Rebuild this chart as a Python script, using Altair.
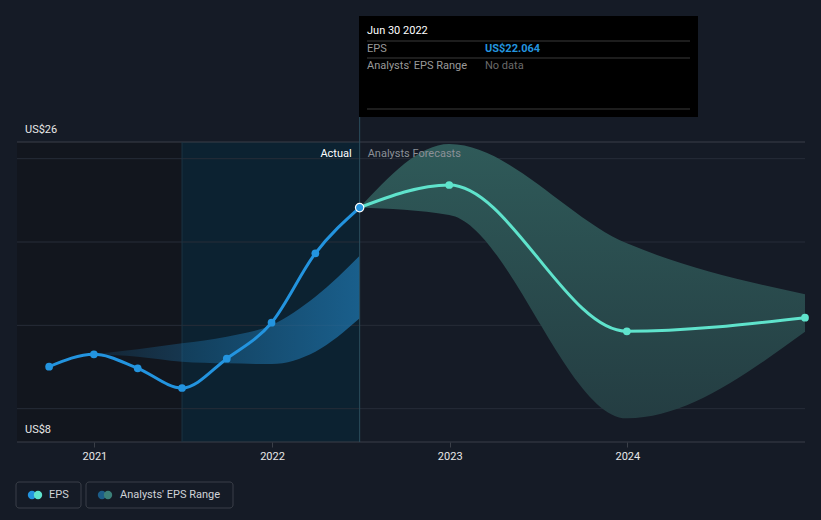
import altair as alt
import pandas as pd

# ---------------- data ----------------
actual_dates = ["2020-09-30", "2020-12-31", "2021-03-31", "2021-06-30",
                "2021-09-30", "2021-12-31", "2022-03-31", "2022-06-30"]
actual_eps = [12.52, 13.26, 12.42, 11.24, 13.0, 15.16, 19.32, 22.064]

past_range_dates = ["2020-12-31", "2021-03-31", "2021-06-30", "2021-09-30",
                    "2021-12-31", "2022-03-31", "2022-06-30"]
past_low = [13.26, 13.12, 12.82, 12.72, 12.68, 13.42, 15.42]
past_high = [13.26, 13.56, 13.92, 14.32, 15.02, 16.72, 19.18]

forecast_dates = ["2022-06-30", "2022-12-31", "2023-12-31", "2024-12-31"]
forecast_eps = [22.064, 23.42, 14.64, 15.46]
forecast_low = [22.064, 21.62, 9.42, 14.62]
forecast_high = [22.064, 25.88, 19.92, 16.86]

grid_values = [10, 15, 20, 25]
y_labels = ["US$26", "US$8"]
y_label_values = [26, 8]
year_ticks = [2021, 2022, 2023, 2024]

# ---------------- styling ----------------
W, H = 788, 300
BG = "#151b26"
FONT = "Roboto"
BLUE = "#2394df"
TEAL = "#5fe3cc"

x_scale = alt.Scale(type="utc",
                    domain=[alt.DateTime(year=2020, month=7, date=26, utc=True),
                            alt.DateTime(year=2024, month=12, date=31, utc=True)],
                    nice=False)
y_scale = alt.Scale(domain=[8, 26], nice=False, zero=False)

x_axis = alt.Axis(
    values=[alt.DateTime(year=y, month=1, date=1, utc=True) for y in year_ticks],
    format="%Y", labelColor="#e8e8e8", labelFont=FONT, labelFontSize=11,
    tickColor="#3a3f48", tickSize=5, labelPadding=3, domain=False,
    grid=False, title=None, labelAngle=0)


def X(field, axis=alt.Undefined):
    return alt.X(field, type="temporal", scale=x_scale, axis=axis)


def Y(field):
    return alt.Y(field, type="quantitative", scale=y_scale, axis=None)


one = pd.DataFrame({"a": [0]})
actual_df = pd.DataFrame({"date": actual_dates, "eps": actual_eps})
past_df = pd.DataFrame({"date": past_range_dates, "low": past_low, "high": past_high})
fc_df = pd.DataFrame({"date": forecast_dates, "eps": forecast_eps,
                      "low": forecast_low, "high": forecast_high})

# background regions (also carries the x axis)
regions = pd.DataFrame({
    "start": ["2020-07-26", "2021-06-30"],
    "end": ["2021-06-30", "2022-06-30"],
    "fill": ["#12161e", "#0c2231"],
})
region_layer = alt.Chart(regions).mark_rect().encode(
    x=X("start:T", axis=x_axis), x2="end:T",
    y=alt.value(0), y2=alt.value(H),
    color=alt.Color("fill:N", scale=None),
)

# gridlines
grid_layer = alt.Chart(pd.DataFrame({"v": grid_values})).mark_rule(
    color="#272d38", strokeWidth=1).encode(
    y=Y("v:Q"), x=alt.value(0), x2=alt.value(W))
top_layer = alt.Chart(pd.DataFrame({"v": [26]})).mark_rule(
    color="#3a3f48", strokeWidth=1).encode(
    y=Y("v:Q"), x=alt.value(0), x2=alt.value(W))
axis_layer = alt.Chart(pd.DataFrame({"v": [8]})).mark_rule(
    color="#3a3f48", strokeWidth=1).encode(
    y=Y("v:Q"), x=alt.value(0), x2=alt.value(W))

# vertical markers
vline1 = alt.Chart(pd.DataFrame({"date": ["2021-06-30"]})).mark_rule(
    color="#1c3442", strokeWidth=1).encode(
    x=X("date:T"), y=alt.value(0), y2=alt.value(H))
vline2 = alt.Chart(pd.DataFrame({"date": ["2022-06-30"]})).mark_rule(
    color="#2b4d5d", strokeWidth=1).encode(
    x=X("date:T"), y=alt.value(-25), y2=alt.value(H))

# past analyst range (gradient)
past_area = alt.Chart(past_df).mark_area(
    interpolate="monotone",
    color=alt.Gradient(
        gradient="linear", x1=0, x2=1, y1=0, y2=0,
        stops=[alt.GradientStop(color="rgba(30,115,170,0.15)", offset=0),
               alt.GradientStop(color="rgba(30,115,170,0.45)", offset=0.5),
               alt.GradientStop(color="rgba(30,115,170,0.75)", offset=1)])
).encode(x=X("date:T"), y=Y("high:Q"), y2="low:Q")

# forecast range
fc_area = alt.Chart(fc_df).mark_area(
    interpolate="monotone",
    color=alt.Gradient(
        gradient="linear", x1=0, x2=0, y1=0, y2=1,
        stops=[alt.GradientStop(color="#2f5a59", offset=0),
               alt.GradientStop(color="#243d42", offset=1)])
).encode(x=X("date:T"), y=Y("high:Q"), y2="low:Q")

# lines
actual_line = alt.Chart(actual_df).mark_line(
    interpolate="monotone", color=BLUE, strokeWidth=3).encode(
    x=X("date:T"), y=Y("eps:Q"))
fc_line = alt.Chart(fc_df).mark_line(
    interpolate="monotone", color=TEAL, strokeWidth=3).encode(
    x=X("date:T"), y=Y("eps:Q"))

actual_pts = alt.Chart(actual_df.iloc[:-1]).mark_circle(
    color=BLUE, size=60, opacity=1).encode(x=X("date:T"), y=Y("eps:Q"))
last_pt = alt.Chart(actual_df.iloc[-1:]).mark_point(
    filled=True, fill=BLUE, stroke="#ffffff", strokeWidth=1.2, size=70,
    opacity=1).encode(x=X("date:T"), y=Y("eps:Q"))
fc_pts = alt.Chart(fc_df.iloc[1:]).mark_circle(
    color=TEAL, size=60, opacity=1).encode(x=X("date:T"), y=Y("eps:Q"))

# y labels
ylab_layer = alt.Chart(pd.DataFrame({"v": y_label_values, "t": y_labels})).mark_text(
    align="left", baseline="middle", dy=-12, color="#e8e8e8", font=FONT,
    fontSize=11).encode(x=alt.value(8), y=Y("v:Q"), text="t:N")

# Actual / Analysts Forecasts labels
sec_df = pd.DataFrame({"date": ["2022-06-30"]})
actual_lbl = alt.Chart(sec_df).mark_text(
    align="right", baseline="middle", dx=-8, color="#ffffff", font=FONT,
    fontSize=11, text="Actual").encode(x=X("date:T"), y=alt.value(12))
fc_lbl = alt.Chart(sec_df).mark_text(
    align="left", baseline="middle", dx=8, color="#8b9097", font=FONT,
    fontSize=11, text="Analysts Forecasts").encode(x=X("date:T"), y=alt.value(12))

# tooltip box
tip_box = alt.Chart(one).mark_rect(color="#000000").encode(
    x=alt.value(342), x2=alt.value(681), y=alt.value(-126), y2=alt.value(-25))
tip_lines = alt.Chart(pd.DataFrame({"y": [-101, -84, -33]})).mark_rule(
    color="#3a3a3a", strokeWidth=1).encode(
    x=alt.value(350), x2=alt.value(673), y=alt.Y("y:Q", scale=None))
tip_text = alt.Chart(pd.DataFrame({
    "x": [350, 350, 350, 468],
    "y": [-111, -93, -76, -76],
    "t": ["Jun 30 2022", "EPS", "Analysts' EPS Range", "No data"],
    "c": ["#ffffff", "#9a9a9a", "#9a9a9a", "#6a6a6a"],
})).mark_text(align="left", baseline="middle", font=FONT, fontSize=11).encode(
    x=alt.X("x:Q", scale=None), y=alt.Y("y:Q", scale=None), text="t:N",
    color=alt.Color("c:N", scale=None))
tip_value = alt.Chart(pd.DataFrame({"t": ["US$22.064"]})).mark_text(
    align="left", baseline="middle", font=FONT, fontSize=11, fontWeight="bold",
    color=BLUE).encode(x=alt.value(468), y=alt.value(-93), text="t:N")

# legend
leg_boxes = alt.Chart(pd.DataFrame({"x": [-1, 69], "x2": [64, 216]})).mark_rect(
    fill=BG, stroke="#3a3f48", strokeWidth=1, cornerRadius=3).encode(
    x=alt.X("x:Q", scale=None), x2="x2:Q", y=alt.value(340), y2=alt.value(366))
leg_dots = alt.Chart(pd.DataFrame({
    "x": [15, 21, 85, 91],
    "c": [BLUE, TEAL, "#1c5d88", "#3b7f78"],
})).mark_circle(size=70, opacity=1).encode(
    x=alt.X("x:Q", scale=None), y=alt.value(353),
    color=alt.Color("c:N", scale=None))
leg_text = alt.Chart(pd.DataFrame({
    "x": [32, 103], "t": ["EPS", "Analysts' EPS Range"]})).mark_text(
    align="left", baseline="middle", font=FONT, fontSize=11,
    color="#d0d3d8").encode(
    x=alt.X("x:Q", scale=None), y=alt.value(353), text="t:N")

chart = alt.layer(
    region_layer, grid_layer, top_layer, axis_layer, vline1,
    past_area, fc_area, vline2,
    actual_line, fc_line, actual_pts, fc_pts, last_pt,
    ylab_layer, actual_lbl, fc_lbl,
    tip_box, tip_lines, tip_text, tip_value,
    leg_boxes, leg_dots, leg_text,
).properties(
    width=W, height=H,
    background=BG,
    padding={"left": 17, "top": 142, "right": 16, "bottom": 78},
    autosize=alt.AutoSizeParams(type="none"),
).configure_view(stroke=None).configure_axis(labelFont=FONT)

chart.save("out.html", embed_options={"renderer": "svg", "actions": False})
